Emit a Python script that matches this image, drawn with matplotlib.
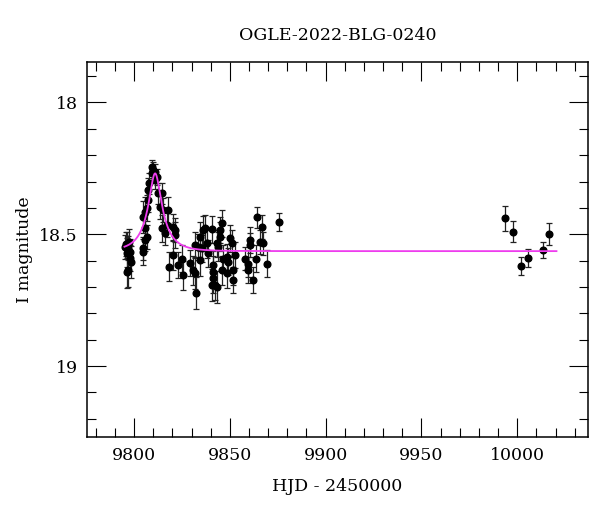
import numpy as np
import matplotlib
matplotlib.use("Agg")
import matplotlib.pyplot as plt
from matplotlib.ticker import MultipleLocator

# ---- data ----
hjd = [9795.3, 9796.2, 9797.0, 9797.9, 9796.2, 9797.9, 9798.4, 9797.0, 9796.3, 9795.8, 9797.4,
       9804.5, 9804.9, 9805.7, 9806.6, 9805.7, 9804.9, 9805.7, 9806.6, 9807.5, 9808.0, 9807.5,
       9809.2, 9810.1, 9809.4, 9811.0, 9811.0, 9811.8, 9812.7, 9813.6, 9814.5, 9815.3, 9814.5,
       9816.2, 9817.8, 9817.0, 9818.4, 9820.5, 9821.4, 9821.4, 9820.5, 9823.1, 9824.9, 9825.7,
       9829.2, 9830.9, 9831.8, 9831.8, 9832.4, 9833.6, 9834.4, 9834.4, 9835.3, 9836.2, 9837.1,
       9837.9, 9838.8, 9840.6, 9841.4, 9841.4, 9841.4, 9840.6, 9842.3, 9843.5, 9843.2, 9844.0,
       9844.9, 9844.9, 9845.8, 9845.8, 9846.6, 9848.4, 9848.4, 9849.2, 9850.1, 9851.0, 9851.8,
       9851.8, 9852.7, 9857.9, 9859.7, 9859.7, 9860.5, 9860.5, 9862.3, 9863.7, 9864.4, 9865.8,
       9866.6, 9867.5, 9869.6, 9875.7,
       9993.6, 9997.6, 10001.8, 10005.8, 10013.6, 10016.6]
mag = [18.548, 18.541, 18.553, 18.568, 18.571, 18.590, 18.606, 18.636, 18.643, 18.537, 18.530,
       18.554, 18.568, 18.522, 18.510, 18.477, 18.434, 18.415, 18.400, 18.370, 18.307, 18.333,
       18.268, 18.257, 18.245, 18.264, 18.295, 18.283, 18.344, 18.396, 18.344, 18.408, 18.478,
       18.497, 18.408, 18.465, 18.623, 18.472, 18.484, 18.503, 18.579, 18.617, 18.592, 18.655,
       18.610, 18.636, 18.648, 18.541, 18.722, 18.548, 18.510, 18.598, 18.554, 18.484, 18.478,
       18.535, 18.573, 18.482, 18.617, 18.642, 18.667, 18.693, 18.693, 18.699, 18.535, 18.548,
       18.510, 18.484, 18.459, 18.636, 18.592, 18.586, 18.648, 18.604, 18.516, 18.535, 18.636,
       18.674, 18.579, 18.592, 18.611, 18.636, 18.522, 18.541, 18.674, 18.592, 18.436, 18.529,
       18.472, 18.535, 18.611, 18.453,
       18.440, 18.490, 18.620, 18.590, 18.560, 18.500]
err = [0.045, 0.050, 0.045, 0.050, 0.055, 0.050, 0.060, 0.065, 0.060, 0.045, 0.050,
       0.045, 0.050, 0.040, 0.045, 0.050, 0.060, 0.055, 0.050, 0.045, 0.040, 0.045,
       0.030, 0.030, 0.025, 0.030, 0.035, 0.030, 0.040, 0.045, 0.040, 0.045, 0.050,
       0.045, 0.050, 0.045, 0.055, 0.050, 0.045, 0.050, 0.055, 0.050, 0.050, 0.055,
       0.050, 0.055, 0.060, 0.050, 0.060, 0.050, 0.055, 0.060, 0.050, 0.055, 0.050,
       0.055, 0.050, 0.050, 0.055, 0.060, 0.055, 0.060, 0.055, 0.060, 0.050, 0.055,
       0.055, 0.050, 0.050, 0.055, 0.050, 0.050, 0.055, 0.050, 0.050, 0.050, 0.055,
       0.050, 0.050, 0.045, 0.050, 0.050, 0.050, 0.045, 0.050, 0.050, 0.040, 0.045,
       0.045, 0.045, 0.050, 0.035,
       0.048, 0.039, 0.034, 0.034, 0.030, 0.041]

# PSPL model parameters read from the drawn fit
t0, tE, u0, fs, I0 = 9811.0, 10.5, 0.3, 0.1276, 18.564
model_start, model_end = 9795.0, 10020.5

title = "OGLE-2022-BLG-0240"
xlabel = "HJD - 2450000"
ylabel = "I magnitude"

# ---- plotting ----
plt.rcParams['font.family'] = ['DejaVu Serif']
fig = plt.figure(figsize=(6.0, 5.12), dpi=100)
ax = fig.add_axes([0.1455, 0.1459, 0.834, 0.7324])

ax.errorbar(hjd, mag, yerr=err, fmt='o', color='black', ms=4.8,
            elinewidth=0.9, capsize=2.4, capthick=0.9, ecolor='#222222', zorder=2)

t = np.linspace(model_start, model_end, 3000)
u = np.sqrt(u0**2 + ((t - t0) / tE)**2)
A = (u**2 + 2) / (u * np.sqrt(u**2 + 4))
model = I0 - 2.5 * np.log10(fs * A + 1 - fs)
ax.plot(t, model, color='#ee3cee', lw=1.3, zorder=3)

ax.set_xlim(9775.6, 10036.8)
ax.set_ylim(19.27, 17.848)
ax.xaxis.set_major_locator(MultipleLocator(50))
ax.xaxis.set_minor_locator(MultipleLocator(10))
ax.yaxis.set_major_locator(MultipleLocator(0.5))
ax.yaxis.set_minor_locator(MultipleLocator(0.1))
ax.yaxis.set_major_formatter(matplotlib.ticker.FuncFormatter(lambda v, p: f"{v:g}"))
ax.tick_params(which='both', direction='in', top=True, right=True, width=0.8, labelsize=12.5)
ax.tick_params(which='major', length=13.5, pad=7)
ax.tick_params(which='minor', length=6.7)
for s in ax.spines.values():
    s.set_linewidth(1.1)

ax.set_title(title, fontsize=12.5, pad=16)
ax.set_xlabel(xlabel, fontsize=12.5, labelpad=10)
ax.set_ylabel(ylabel, fontsize=12.5, labelpad=4)

fig.savefig("out.png", dpi=100)
